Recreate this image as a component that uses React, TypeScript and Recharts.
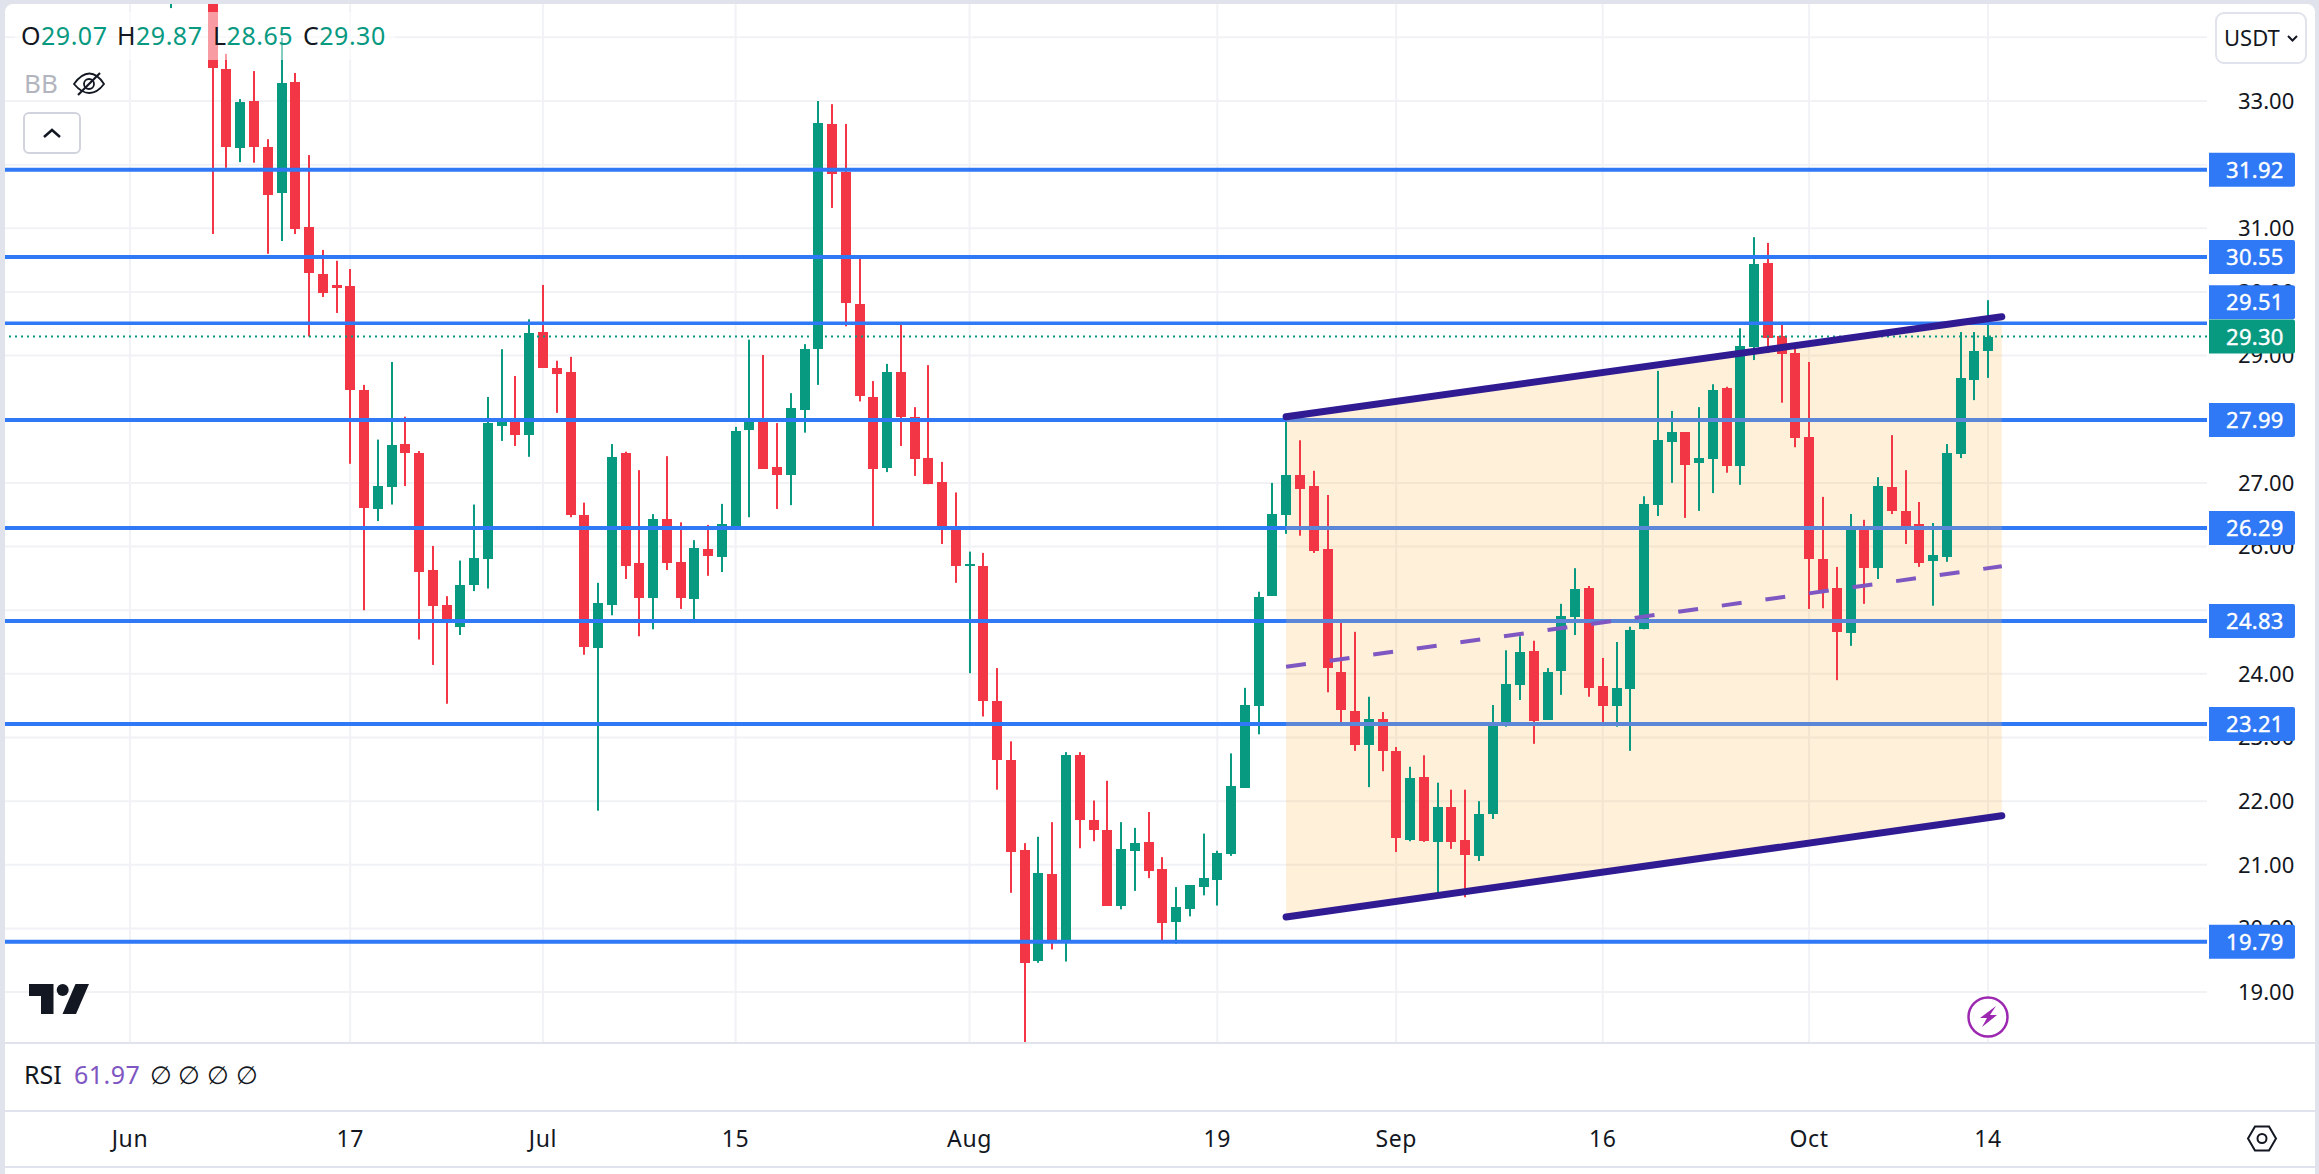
import React from "react";
import { ComposedChart, Bar, Area, Line, XAxis, YAxis, CartesianGrid, ReferenceLine } from "recharts";

const days = [3, 6, 7, 8, 9, 10, 11, 12, 13, 14, 15, 16, 17, 18, 19, 20, 21, 22, 23, 24, 25, 26, 27, 28, 29, 30, 31, 32, 33, 34, 35, 36, 37, 38, 39, 40, 41, 42, 43, 44, 45, 46, 47, 48, 49, 50, 51, 52, 53, 54, 55, 56, 57, 58, 59, 60, 61, 62, 63, 64, 65, 66, 67, 68, 69, 70, 71, 72, 73, 74, 75, 76, 77, 78, 79, 80, 81, 82, 83, 84, 85, 86, 87, 88, 89, 90, 91, 92, 93, 94, 95, 96, 97, 98, 99, 100, 101, 102, 103, 104, 105, 106, 107, 108, 109, 110, 111, 112, 113, 114, 115, 116, 117, 118, 119, 120, 121, 122, 123, 124, 125, 126, 127, 128, 129, 130, 131, 132, 133, 134, 135];
const opens = [35.5, 35.5, 33.5, 32.26, 33, 32.28, 31.56, 33.3, 31.02, 30.28, 30.11, 30.09, 28.46, 26.59, 26.93, 27.61, 27.47, 25.63, 25.08, 24.74, 25.4, 25.81, 27.89, 27.98, 27.75, 29.37, 28.81, 28.74, 26.49, 24.41, 25.08, 27.47, 25.74, 25.19, 26.44, 25.76, 25.18, 25.96, 25.84, 26.32, 27.83, 28.01, 27.25, 27.12, 28.15, 29.1, 32.64, 31.89, 29.81, 28.35, 27.23, 28.74, 28.04, 27.39, 27.01, 26.33, 25.69, 25.7, 23.57, 22.65, 21.23, 19.49, 20.85, 19.8, 22.72, 21.7, 21.55, 20.35, 21.22, 21.36, 20.93, 20.1, 20.3, 20.65, 20.76, 21.17, 22.21, 23.5, 25.23, 26.5, 27.12, 26.95, 25.96, 24.03, 23.42, 22.88, 23.29, 22.79, 21.39, 22.38, 21.36, 21.91, 21.39, 21.14, 21.8, 23.24, 23.82, 24.36, 23.28, 24.04, 24.89, 25.35, 23.81, 23.49, 23.76, 24.7, 26.65, 27.64, 27.8, 27.31, 27.38, 28.49, 27.27, 29.14, 30.45, 29.31, 29.04, 27.72, 25.8, 25.35, 24.64, 26.28, 25.66, 26.94, 26.56, 26.35, 25.77, 25.84, 27.45, 28.62, 29.07];
const highs = [36, 36, 33.74, 33.03, 33.47, 32.4, 33.99, 33.44, 32.15, 30.66, 30.49, 30.36, 28.54, 27.68, 28.9, 28.04, 27.5, 26.01, 25.22, 25.78, 26.66, 28.35, 29.1, 28.68, 29.57, 30.11, 28.92, 28.98, 26.69, 25.43, 27.61, 27.49, 27.2, 26.51, 27.42, 26.38, 26.1, 26.34, 26.67, 27.88, 29.25, 29.01, 27.94, 28.41, 29.18, 33, 32.95, 32.64, 30.54, 28.6, 28.87, 29.51, 28.19, 28.85, 27.33, 26.85, 25.92, 25.9, 24.09, 22.94, 21.34, 21.44, 21.67, 22.77, 22.77, 22.01, 22.32, 21.67, 21.58, 21.83, 21.12, 20.65, 20.68, 21.49, 21.22, 22.75, 23.78, 25.29, 27, 27.99, 27.67, 27.19, 26.81, 24.83, 24.66, 23.64, 23.4, 22.85, 22.54, 22.72, 22.29, 22.18, 22.18, 22, 23.51, 24.37, 24.59, 24.52, 24.09, 25.1, 25.66, 25.38, 24.25, 24.5, 24.74, 26.79, 28.76, 28.13, 27.8, 28.19, 28.55, 28.51, 29.43, 30.86, 30.77, 29.48, 29.14, 28.9, 26.78, 25.68, 26.51, 26.42, 27.09, 27.75, 27.2, 26.7, 26.37, 27.61, 29.37, 29.37, 29.87];
const lows = [34.46, 30.91, 31.95, 32.04, 32.03, 30.6, 30.8, 30.91, 29.3, 29.92, 29.67, 27.3, 25, 26.4, 26.66, 26.95, 24.54, 24.14, 23.53, 24.61, 25.3, 25.34, 27.66, 27.58, 27.41, 28.81, 28.1, 26.46, 24.3, 21.85, 24.92, 25.49, 24.59, 24.7, 25.63, 25.02, 24.82, 25.54, 25.6, 26.26, 26.46, 27.22, 26.59, 26.65, 27.79, 28.54, 31.32, 29.46, 28.28, 26.3, 27.17, 27.58, 27.11, 26.98, 26.04, 25.43, 24.01, 23.33, 22.18, 20.56, 18.15, 19.46, 19.67, 19.48, 21.26, 21.37, 20.36, 20.3, 20.59, 20.79, 19.81, 19.76, 20.19, 20.52, 20.36, 21.14, 22.21, 23.05, 25.23, 26.2, 26.17, 25.9, 23.71, 23.21, 22.79, 22.22, 22.47, 21.2, 21.37, 21.36, 20.51, 21.25, 20.49, 21.06, 21.72, 23.17, 23.59, 22.9, 23.28, 23.67, 24.61, 23.64, 23.23, 23.17, 22.79, 24.7, 26.48, 27, 26.45, 26.56, 26.84, 27.16, 26.97, 28.93, 29.04, 28.26, 27.56, 25.02, 25.03, 23.9, 24.44, 25.1, 25.49, 26.51, 26.04, 25.68, 25.07, 25.76, 27.39, 28.3, 28.65];
const closes = [35.9, 33.52, 32.28, 32.98, 32.28, 31.52, 33.28, 30.99, 30.3, 29.98, 30.06, 28.46, 26.61, 26.95, 27.6, 27.47, 25.6, 25.06, 24.8, 25.4, 25.82, 27.94, 27.98, 27.75, 29.36, 28.81, 28.71, 26.49, 24.42, 25.11, 27.41, 25.69, 25.19, 26.44, 25.74, 25.19, 25.98, 25.85, 26.35, 27.82, 28.02, 27.22, 27.12, 28.18, 29.1, 32.65, 31.86, 29.83, 28.37, 27.22, 28.74, 28.04, 27.38, 26.98, 26.32, 25.69, 25.72, 23.57, 22.64, 21.2, 19.46, 20.87, 19.81, 22.72, 21.7, 21.55, 20.36, 21.25, 21.34, 20.9, 20.08, 20.33, 20.68, 20.79, 21.18, 22.24, 23.51, 25.21, 26.51, 27.12, 26.9, 25.93, 24.09, 23.43, 22.88, 23.29, 22.79, 21.42, 22.36, 21.37, 21.91, 21.36, 21.15, 21.8, 23.24, 23.84, 24.34, 23.26, 24.03, 24.91, 25.33, 23.78, 23.49, 23.78, 24.69, 26.67, 27.67, 27.8, 27.28, 27.39, 28.46, 27.27, 29.15, 30.44, 29.28, 29.03, 27.71, 25.8, 25.32, 24.66, 26.26, 25.66, 26.95, 26.56, 26.32, 25.74, 25.87, 27.47, 28.65, 29.07, 29.3];

const levels = [31.92, 30.55, 29.51, 27.99, 26.29, 24.83, 23.21, 19.79];
const bandLevels = [27.99, 26.29, 24.83, 23.21];
const lastPrice = 29.3;
const priceTicks = [19, 20, 21, 22, 23, 24, 25, 26, 27, 28, 29, 30, 31, 32, 33, 34];
const coveredTicks = [25, 28, 32, 34];
const timeTicks = [0, 16, 30, 44, 61, 79, 92, 107, 122, 135];
const timeLabels = ["Jun", "17", "Jul", "15", "Aug", "19", "Sep", "16", "Oct", "14"];
const channelDays = [84, 136];
const channelTop = [28.04, 29.61];
const channelMid = [24.11, 25.69];
const channelBottom = [20.18, 21.77];

const UP = "#089981";
const DOWN = "#F23645";
const BLUE = "#2F78F6";
const BLUE_IN_BAND = "#5C87D9";
const BORDER = "#E0E3EB";
const INK = "#131722";
const FONT = "'Noto Sans', sans-serif";
const X_DOMAIN = [-9.082, 150.91];
const Y_DOMAIN = [18.2, 34.524];

const candles = days.map((day, i) => ({ day, open: opens[i], high: highs[i], low: lows[i], close: closes[i], span: [lows[i], highs[i]] }));
const channel = channelDays.map((day, i) => ({ day, top: channelTop[i], mid: channelMid[i], bottom: channelBottom[i], band: [channelBottom[i], channelTop[i]] }));

function Candle(props: any) {
  const { x, y, width, height, payload } = props;
  const { open, high, low, close } = payload;
  const unit = height / (high - low);
  const cx = Math.round(x + width / 2);
  const top = Math.round(y + (high - Math.max(open, close)) * unit);
  const bottom = Math.round(y + (high - Math.min(open, close)) * unit);
  const fill = close >= open ? UP : DOWN;
  return (
    <g>
      <rect x={cx - 1} y={y} width={2} height={height} fill={fill} />
      <rect x={cx - 5} y={top} width={10} height={Math.max(bottom - top, 2)} fill={fill} />
    </g>
  );
}

function PriceTag(props: any) {
  const { viewBox, text, fill, shift } = props;
  const right = viewBox.x + viewBox.width;
  const cy = viewBox.y + (shift || 0);
  return (
    <g>
      <path d={`M${right + 2} ${cy - 17}H${right + 86}a2 2 0 0 1 2 2V${cy + 15}a2 2 0 0 1 -2 2H${right + 2}Z`} fill={fill} />
      <text x={right + 19} y={cy + 8} fill="#fff" stroke="#fff" strokeWidth={0.4} fontFamily={FONT} fontSize={22} letterSpacing={0.3}>{text}</text>
    </g>
  );
}

const abs = (left: number, top: number, extra: any = {}) => ({ position: "absolute" as const, left, top, lineHeight: 1, whiteSpace: "nowrap" as const, fontFamily: FONT, ...extra });

function Overlay() {
  const legend = [["O", "29.07", 21], ["H", "29.87", 117], ["L", "28.65", 213], ["C", "29.30", 303]] as const;
  return (
    <svg width={2319} height={1174} style={{ position: "absolute", left: 0, top: 0 }} fontFamily={FONT}>
      <rect x={15} y={12} width={380} height={48} fill="#fff" fillOpacity={0.5} />
      {legend.map(([k, v, x]) => (
        <text key={k} x={x} y={45} fontSize={25} letterSpacing={0.5}>
          <tspan fill={INK}>{k}</tspan>
          <tspan fill={UP}>{v}</tspan>
        </text>
      ))}
      <text x={24} y={93} fontSize={26} fill="#B2B5BE">BB</text>
      <g fill="none" stroke={INK} strokeWidth={1.8}>
        <path d="M74 84 C84 70 95 70 104 84 C95 96 84 96 74 84Z" />
        <circle cx={89} cy={84} r={5} />
        <path d="M78 95 L100 73" strokeWidth={2.2} />
      </g>
      <rect x={24} y={113} width={56} height={40} rx={5} fill="#fff" stroke="#D1D4DC" strokeWidth={2} />
      <path d="M44 137 L52 130 L60 137" fill="none" stroke={INK} strokeWidth={2.5} />

      <path d="M29 984H53.5V1014H41V996H29Z" fill={INK} />
      <circle cx={62.7} cy={990} r={6} fill={INK} />
      <path d="M75.5 984H89L76 1014H62.5Z" fill={INK} />

      <rect x={5} y={1043} width={2310} height={68} fill="#fff" />
      <rect x={5} y={1042} width={2310} height={2} fill={BORDER} />
      <rect x={5} y={1110} width={2310} height={2} fill={BORDER} />
      <rect x={5} y={1166} width={2310} height={2} fill={BORDER} />
      <text x={24} y={1084} fontSize={25} fill={INK}>RSI</text>
      <text x={74} y={1084} fontSize={25} fill="#7E57C2" letterSpacing={0.5}>61.97</text>
      {[150, 178, 207, 236].map((x) => (
        <text key={x} x={x} y={1084} fontSize={25} fill={INK}>∅</text>
      ))}

      <circle cx={1988} cy={1017} r={19.5} fill="#fff" stroke="#9C27B0" strokeWidth={2.5} />
      <path d="M1996 1006 L1980 1018 L1987 1018 L1982 1027 L1997 1015 L1990 1015 Z" fill="#9C27B0" />

      <path d="M2248 1138.5 L2255 1126.5 H2269 L2276 1138.5 L2269 1150.5 H2255 Z" fill="none" stroke={INK} strokeWidth={2} />
      <circle cx={2262} cy={1138.5} r={4.5} fill="none" stroke={INK} strokeWidth={2} />

      <rect x={2216} y={13} width={90} height={50} rx={8} fill="#fff" stroke={BORDER} strokeWidth={2} />
      <text x={2224} y={46} fontSize={22} fill={INK}>USDT</text>
      <path d="M2288 36 L2292.5 40.5 L2297 36" fill="none" stroke={INK} strokeWidth={2} />
    </svg>
  );
}

function TagLayer() {
  return (
    <div style={{ position: "absolute", left: 0, top: 0 }}>
      <ComposedChart width={2319} height={1174} data={candles} margin={{ top: 4, right: 112, bottom: 131, left: 5 }}>
        <XAxis dataKey="day" type="number" domain={X_DOMAIN} allowDataOverflow hide />
        <YAxis type="number" domain={Y_DOMAIN} allowDataOverflow hide />
        {levels.map((v) => (
          <ReferenceLine
            key={v}
            y={v}
            stroke="none"
            label={<PriceTag text={v.toFixed(2)} fill={BLUE} shift={v === 29.51 ? -21 : 0} />}
          />
        ))}
        <ReferenceLine y={lastPrice} stroke="none" label={<PriceTag text={lastPrice.toFixed(2)} fill={UP} />} />
      </ComposedChart>
    </div>
  );
}

export default function App() {
  return (
    <div style={{ position: "absolute", left: 0, top: 0, width: 2319, height: 1174, background: BORDER, overflow: "hidden" }}>
      <div style={abs(5, 4, { width: 2310, height: 1170, background: "#fff", borderRadius: "8px 8px 0 0" })} />
      <div style={{ position: "absolute", left: 0, top: 0 }}>
        <ComposedChart width={2319} height={1174} data={candles} margin={{ top: 4, right: 0, bottom: 0, left: 5 }}>
          <CartesianGrid stroke="#F1F2F5" strokeWidth={2} syncWithTicks />
          <XAxis
            dataKey="day"
            type="number"
            domain={X_DOMAIN}
            allowDataOverflow
            ticks={timeTicks}
            interval={0}
            height={131}
            tickMargin={82}
            axisLine={false}
            tickLine={false}
            tick={{ fill: INK, fontFamily: FONT, fontSize: 23, letterSpacing: 0.6 }}
            tickFormatter={(d: number) => timeLabels[timeTicks.indexOf(d)]}
          />
          <YAxis
            orientation="right"
            type="number"
            domain={Y_DOMAIN}
            allowDataOverflow
            ticks={priceTicks}
            interval={0}
            width={112}
            tickMargin={25}
            axisLine={false}
            tickLine={false}
            tick={{ fill: INK, fontFamily: FONT, fontSize: 22 }}
            tickFormatter={(v: number) => (coveredTicks.includes(v) ? "" : v.toFixed(2))}
          />
          {levels.map((v) => (
            <ReferenceLine key={v} y={v} stroke={BLUE} strokeWidth={v === 29.51 ? 3.5 : 4} />
          ))}
          {bandLevels.map((v) => (
            <ReferenceLine
              key={`band-${v}`}
              segment={[{ x: channelDays[0], y: v }, { x: channelDays[1], y: v }]}
              stroke={BLUE_IN_BAND}
              strokeWidth={4}
            />
          ))}
          <ReferenceLine y={lastPrice} stroke={UP} strokeWidth={2} strokeDasharray="2 4" />
          <Area data={channel} dataKey="band" type="linear" stroke="none" fill="#FF9800" fillOpacity={0.15} dot={false} activeDot={false} isAnimationActive={false} />
          <Line data={channel} dataKey="mid" type="linear" stroke="#7E57C2" strokeWidth={4} strokeDasharray="20 24" dot={false} activeDot={false} isAnimationActive={false} />
          <Line data={channel} dataKey="top" type="linear" stroke="#311B92" strokeWidth={7} strokeLinecap="round" dot={false} activeDot={false} isAnimationActive={false} />
          <Line data={channel} dataKey="bottom" type="linear" stroke="#311B92" strokeWidth={7} strokeLinecap="round" dot={false} activeDot={false} isAnimationActive={false} />
          <Bar dataKey="span" barSize={10} shape={<Candle />} isAnimationActive={false} />
        </ComposedChart>
      </div>
      <TagLayer />
      <Overlay />
    </div>
  );
}
